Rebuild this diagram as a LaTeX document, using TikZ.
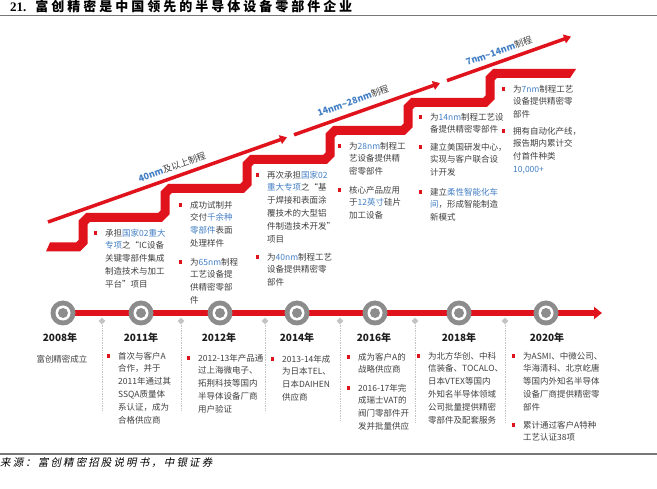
\documentclass[tikz,border=0pt]{standalone}
\usepackage{fontspec}
\setmainfont{Noto Sans CJK SC}
\newfontfamily\tnr{Liberation Serif}
\newfontfamily\titlecjk[LetterSpace=23]{Noto Sans CJK SC}
\newfontfamily\srcfont[FakeSlant=0.2,LetterSpace=20]{Noto Sans CJK SC}
\usetikzlibrary{arrows.meta,shapes.geometric}
\definecolor{rd}{RGB}{224,18,28}
\definecolor{ptg}{RGB}{140,140,140}
\definecolor{dmg}{RGB}{195,195,195}
\definecolor{txt}{RGB}{64,64,64}
\definecolor{yrc}{RGB}{30,30,30}
\definecolor{hlblue}{RGB}{66,126,196}
\definecolor{rule}{RGB}{120,120,120}
\newcommand\hl[1]{\textcolor{hlblue}{#1}}
\tikzset{
  btx/.style={anchor=north west, inner sep=0pt, align=left, text=txt, font=\fontsize{8.5}{12.8}\selectfont},
  bsq/.style={rectangle, fill=rd, minimum size=3.6pt, inner sep=0pt},
  yr/.style={inner sep=0pt, text=yrc, font=\fontsize{10}{10}\selectfont\bfseries},
  arr/.style={draw=rd, line width=3.5pt, -{Triangle[length=7pt,width=9pt]}},
  ptc/.style={circle, fill=ptg, minimum size=25pt, inner sep=0pt},
  dmd/.style={diamond, fill=dmg, minimum width=7pt, minimum height=7pt, inner sep=0pt},
  vdot/.style={draw=dmg, line width=0.7pt, dash pattern=on 0.7pt off 1pt},
  lab/.style={rotate=19.5, inner sep=0pt, font=\fontsize{9}{9}\selectfont}
}
\newcommand\bul[4]{%
  \node[bsq] (#1-b) at ({#2-9.5},{#3}) {};
  \node[btx] (#1) at ({#2},{#3-4.3}) {#4};
}
\newcommand\yrpt[2]{%
  \node[ptc] (#1) at (#2,313) {};
  \fill[white] (#1) circle (7.5pt);
  \fill[ptg] (#1) circle (5pt);
}
\newcommand\dmpt[3]{%
  \node[dmd] (#1) at (#2,321) {};
  \coordinate (#1e) at (#2,#3);
  \draw[vdot] (#1.south) -- (#1e);
}
\begin{document}
\begin{tikzpicture}[x=1pt,y=-1pt]
\useasboundingbox (0,0) rectangle (657,489);
% title
\node[anchor=base west, inner sep=0pt] (title) at (10,11.5)
  {\fontsize{13}{13}\selectfont\bfseries{\tnr 21.}\hspace{9pt}{\titlecjk\bfseries 富创精密是中国领先的半导体设备零部件企业}};
\coordinate (tl) at (0,15.5); \coordinate (tr) at (657,15.5);
\draw[rule, line width=1.5pt] (tl) -- (tr);
% source
\coordinate (bl) at (0,454); \coordinate (br) at (657,454);
\draw[rule, line width=1.5pt] (bl) -- (br);
\node[anchor=base west, inner sep=0pt, text=black] (src) at (0,467)
  {\fontsize{10.5}{10.5}\selectfont\srcfont 来源：富创精密招股说明书，中银证券};

% staircase band
\coordinate (s0) at (50,247);
\coordinate (s1) at (570,73.5);
\draw[rd, line width=9pt, line join=miter]
  (s0) -- (78,247) -- (83,242) -- (83,222.5) -- (88,217.5)
  -- (160,217.5) -- (165,212.5) -- (165,193.5) -- (170,188.5)
  -- (242,188.5) -- (247,183.5) -- (247,164.5) -- (252,159.5)
  -- (325,159.5) -- (330,154.5) -- (330,135.5) -- (335,130.5)
  -- (403,130.5) -- (408,125.5) -- (408,107.5) -- (413,102.5)
  -- (485,102.5) -- (490,97.5) -- (490,78.5) -- (495,73.5)
  -- (s1);
\fill[rd] (50,242.5) -- (50,251.5) -- (46,251.5) -- cycle;
\fill[rd] (570,69) -- (576,69) -- (570,78) -- cycle;

% process arrows
\coordinate (a1s) at (48,222);   \coordinate (a1e) at (287,137.3);
\coordinate (a2s) at (294,134.8); \coordinate (a2e) at (440,83.1);
\coordinate (a3s) at (447,80.6);  \coordinate (a3e) at (571,36.6);
\draw[arr] (a1s) -- (a1e);
\draw[arr] (a2s) -- (a2e);
\draw[arr] (a3s) -- (a3e);
\node[lab] (l1) at (172,167.5) {\hl{\bfseries 40nm}\textcolor{txt}{及以上制程}};
\node[lab] (l2) at (353,101) {\hl{\bfseries 14nm\textasciitilde28nm}\textcolor{txt}{制程}};
\node[lab] (l3) at (499,51) {\hl{\bfseries 7nm\textasciitilde14nm}\textcolor{txt}{制程}};

% upper texts
\bul{t1}{105}{233}{承担\hl{国家02重大}\\\hl{专项}之“IC设备\\关键零部件集成\\制造技术与加工\\平台”项目}
\bul{t2a}{190}{205}{成功试制并\\交付\hl{千余种}\\\hl{零部件}表面\\处理样件}
\bul{t2b}{190}{262}{为\hl{65nm}制程\\工艺设备提\\供精密零部\\件}
\bul{t3a}{267}{175}{再次承担\hl{国家02}\\\hl{重大专项}之“基\\于焊接和表面涂\\覆技术的大型铝\\件制造技术开发”\\项目}
\bul{t3b}{267}{257}{为\hl{40nm}制程工艺\\设备提供精密零\\部件}
\bul{t4a}{349}{146}{为\hl{28nm}制程工\\艺设备提供精\\密零部件}
\bul{t4b}{349}{190}{核心产品应用\\于\hl{12英寸}硅片\\加工设备}
\bul{t5a}{430}{117}{为\hl{14nm}制程工艺设\\备提供精密零部件}
\bul{t5b}{430}{147}{建立美国研发中心，\\实现与客户联合设\\计开发}
\bul{t5c}{430}{192}{建立\hl{柔性智能化车}\\\hl{间}，形成智能制造\\新模式}
\bul{t6a}{513}{89}{为\hl{7nm}制程工艺\\设备提供精密零\\部件}
\bul{t6b}{513}{131}{拥有自动化产线，\\报告期内累计交\\付首件种类\\\hl{10,000+}}

% timeline
\coordinate (tls) at (63,313); \coordinate (tle) at (602,313);
\draw[rd, line width=5.5pt, -{Triangle[length=8pt,width=12pt]}] (tls) -- (tle);
\yrpt{p1}{63}
\yrpt{p2}{141}
\yrpt{p3}{220}
\yrpt{p4}{297}
\yrpt{p5}{375}
\yrpt{p6}{459}
\yrpt{p7}{546}
\dmpt{d1}{102}{411}
\dmpt{d2}{181}{411}
\dmpt{d3}{265}{411}
\dmpt{d4}{340}{420}
\dmpt{d5}{415}{423}
\dmpt{d6}{505}{422}

\node[yr] (y1) at (60,338) {2008年};
\node[yr] (y2) at (141,338) {2011年};
\node[yr] (y3) at (219,338) {2012年};
\node[yr] (y4) at (297,338) {2014年};
\node[yr] (y5) at (374,338) {2016年};
\node[yr] (y6) at (459,338) {2018年};
\node[yr] (y7) at (547,338) {2020年};
\node[inner sep=0pt, text=txt, font=\fontsize{8.5}{8.5}\selectfont] (f2008) at (62,359) {富创精密成立};

% lower texts
\bul{b11}{118}{356}{首次与客户A\\合作，并于\\2011年通过其\\SSQA质量体\\系认证，成为\\合格供应商}
\bul{b12}{198}{358}{2012-13年产品通\\过上海微电子、\\拓荆科技等国内\\半导体设备厂商\\用户验证}
\bul{b14}{282}{359}{2013-14年成\\为日本TEL、\\日本DAIHEN\\供应商}
\bul{b16a}{358}{357}{成为客户A的\\战略供应商}
\bul{b16b}{358}{388}{2016-17年完\\成瑞士VAT的\\阀门零部件开\\发并批量供应}
\bul{b18}{428}{356}{为北方华创、中科\\信装备、TOCALO、\\日本VTEX等国内\\外知名半导体领域\\公司批量提供精密\\零部件及配套服务}
\bul{b20a}{523}{356}{为ASMI、中微公司、\\华海清科、北京屹唐\\等国内外知名半导体\\设备厂商提供精密零\\部件}
\bul{b20b}{523}{425}{累计通过客户A特种\\工艺认证38项}
\end{tikzpicture}
\end{document}
